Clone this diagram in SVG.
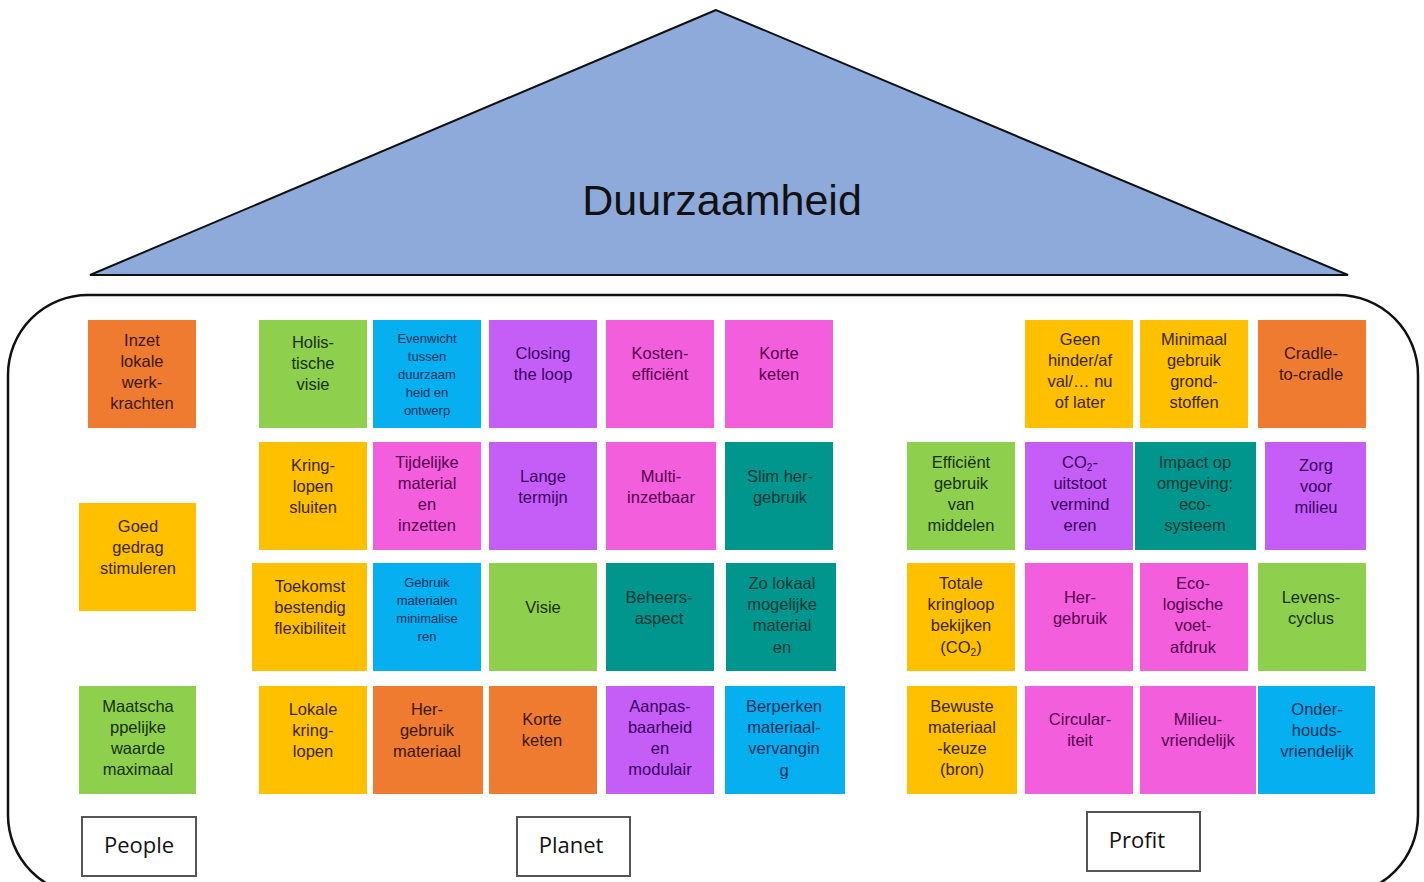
<svg xmlns="http://www.w3.org/2000/svg" width="1424" height="882" viewBox="0 0 1424 882">
  <style>
    .note rect { stroke: none; }
    .note text { font-family: "Liberation Sans", Arial, sans-serif; font-size: 16.5px; text-anchor: middle; }
    .note text.small { font-size: 13px; }
    .orange rect { fill: #EE7B30; } .orange text { fill: #3a1800; }
    .yellow rect { fill: #FFC000; } .yellow text { fill: #3a2600; }
    .green rect { fill: #8FCF4E; } .green text { fill: #163000; }
    .blue rect { fill: #06AFEF; } .blue text { fill: #06305a; }
    .purple rect { fill: #C55EF6; } .purple text { fill: #3a0062; }
    .pink rect { fill: #F35EDC; } .pink text { fill: #560050; }
    .teal rect { fill: #00968E; } .teal text { fill: #003733; }
    .label rect { fill: #ffffff; stroke: #555555; stroke-width: 2; }
    .label text { font-family: "Open Sans", "Noto Sans", sans-serif; font-size: 22px; text-anchor: middle; fill: #111111; }
    .sub { font-size: 10px; }
  </style>

  <!-- roof -->
  <g id="roof">
    <polygon points="716,10 90,275 1348,275" fill="#8EAADB" stroke="#111111" stroke-width="2" stroke-linejoin="miter"/>
    <text x="722" y="215" font-family="'Liberation Sans', Arial, sans-serif" font-size="43" text-anchor="middle" fill="#111111">Duurzaamheid</text>
  </g>

  <!-- body of the house -->
  <g id="house">
    <rect x="8" y="295" width="1410" height="600" rx="80" ry="80" fill="none" stroke="#111111" stroke-width="2.5"/>
  </g>

  <g id="connectors"/>

  <!-- People -->
  <g id="people-1" class="note orange"><rect x="88" y="320" width="108" height="108"/>
    <text><tspan x="142" y="346">Inzet</tspan><tspan x="142" y="367">lokale</tspan><tspan x="142" y="388">werk-</tspan><tspan x="142" y="409">krachten</tspan></text></g>
  <g id="people-2" class="note yellow"><rect x="79" y="503" width="117" height="108"/>
    <text><tspan x="138" y="532">Goed</tspan><tspan x="138" y="553">gedrag</tspan><tspan x="138" y="574">stimuleren</tspan></text></g>
  <g id="people-3" class="note green"><rect x="79" y="686" width="117" height="108"/>
    <text><tspan x="138" y="712">Maatscha</tspan><tspan x="138" y="733">ppelijke</tspan><tspan x="138" y="754">waarde</tspan><tspan x="138" y="775">maximaal</tspan></text></g>

  <!-- Planet row 1 -->
  <g id="planet-1" class="note green"><rect x="259" y="320" width="108" height="108"/>
    <text><tspan x="313" y="348">Holis-</tspan><tspan x="313" y="369">tische</tspan><tspan x="313" y="390">visie</tspan></text></g>
  <g id="planet-2" class="note blue"><rect x="373" y="320" width="108" height="108"/>
    <text class="small"><tspan x="427" y="343">Evenwicht</tspan><tspan x="427" y="361">tussen</tspan><tspan x="427" y="379">duurzaam</tspan><tspan x="427" y="397">heid en</tspan><tspan x="427" y="415">ontwerp</tspan></text></g>
  <g id="planet-3" class="note purple"><rect x="489" y="320" width="108" height="108"/>
    <text><tspan x="543" y="359">Closing</tspan><tspan x="543" y="380">the loop</tspan></text></g>
  <g id="planet-4" class="note pink"><rect x="606" y="320" width="108" height="108"/>
    <text><tspan x="660" y="359">Kosten-</tspan><tspan x="660" y="380">efficiënt</tspan></text></g>
  <g id="planet-5" class="note pink"><rect x="725" y="320" width="108" height="108"/>
    <text><tspan x="779" y="359">Korte</tspan><tspan x="779" y="380">keten</tspan></text></g>

  <!-- Planet row 2 -->
  <g id="planet-6" class="note yellow"><rect x="259" y="442" width="108" height="108"/>
    <text><tspan x="313" y="471">Kring-</tspan><tspan x="313" y="492">lopen</tspan><tspan x="313" y="513">sluiten</tspan></text></g>
  <g id="planet-7" class="note pink"><rect x="373" y="442" width="108" height="108"/>
    <text><tspan x="427" y="468">Tijdelijke</tspan><tspan x="427" y="489">material</tspan><tspan x="427" y="510">en</tspan><tspan x="427" y="531">inzetten</tspan></text></g>
  <g id="planet-8" class="note purple"><rect x="489" y="442" width="108" height="108"/>
    <text><tspan x="543" y="482">Lange</tspan><tspan x="543" y="503">termijn</tspan></text></g>
  <g id="planet-9" class="note pink"><rect x="606" y="442" width="110" height="108"/>
    <text><tspan x="661" y="482">Multi-</tspan><tspan x="661" y="503">inzetbaar</tspan></text></g>
  <g id="planet-10" class="note teal"><rect x="725" y="442" width="108" height="108"/>
    <text><tspan x="780" y="482">Slim her-</tspan><tspan x="780" y="503">gebruik</tspan></text></g>

  <!-- Planet row 3 -->
  <g id="planet-11" class="note yellow"><rect x="252" y="563" width="115" height="108"/>
    <text><tspan x="310" y="592">Toekomst</tspan><tspan x="310" y="613">bestendig</tspan><tspan x="310" y="634">flexibiliteit</tspan></text></g>
  <g id="planet-12" class="note blue"><rect x="373" y="563" width="108" height="108"/>
    <text class="small"><tspan x="427" y="587">Gebruik</tspan><tspan x="427" y="605">materialen</tspan><tspan x="427" y="623">minimalise</tspan><tspan x="427" y="641">ren</tspan></text></g>
  <g id="planet-13" class="note green"><rect x="489" y="563" width="108" height="108"/>
    <text><tspan x="543" y="613">Visie</tspan></text></g>
  <g id="planet-14" class="note teal"><rect x="606" y="563" width="108" height="108"/>
    <text><tspan x="659" y="603">Beheers-</tspan><tspan x="659" y="624">aspect</tspan></text></g>
  <g id="planet-15" class="note teal"><rect x="726" y="563" width="110" height="108"/>
    <text><tspan x="782" y="589">Zo lokaal</tspan><tspan x="782" y="610">mogelijke</tspan><tspan x="782" y="631">material</tspan><tspan x="782" y="653">en</tspan></text></g>

  <!-- Planet row 4 -->
  <g id="planet-16" class="note yellow"><rect x="259" y="686" width="108" height="108"/>
    <text><tspan x="313" y="715">Lokale</tspan><tspan x="313" y="736">kring-</tspan><tspan x="313" y="757">lopen</tspan></text></g>
  <g id="planet-17" class="note orange"><rect x="373" y="686" width="110" height="108"/>
    <text><tspan x="427" y="715">Her-</tspan><tspan x="427" y="736">gebruik</tspan><tspan x="427" y="757">materiaal</tspan></text></g>
  <g id="planet-18" class="note orange"><rect x="489" y="686" width="108" height="108"/>
    <text><tspan x="542" y="725">Korte</tspan><tspan x="542" y="746">keten</tspan></text></g>
  <g id="planet-19" class="note purple"><rect x="606" y="686" width="108" height="108"/>
    <text><tspan x="660" y="712">Aanpas-</tspan><tspan x="660" y="733">baarheid</tspan><tspan x="660" y="754">en</tspan><tspan x="660" y="775">modulair</tspan></text></g>
  <g id="planet-20" class="note blue"><rect x="725" y="686" width="120" height="108"/>
    <text><tspan x="784" y="712">Berperken</tspan><tspan x="784" y="733">materiaal-</tspan><tspan x="784" y="754">vervangin</tspan><tspan x="784" y="776">g</tspan></text></g>

  <!-- Profit row 1 -->
  <g id="profit-1" class="note yellow"><rect x="1025" y="320" width="108" height="108"/>
    <text><tspan x="1080" y="345">Geen</tspan><tspan x="1080" y="366">hinder/af</tspan><tspan x="1080" y="387">val/… nu</tspan><tspan x="1080" y="408">of later</tspan></text></g>
  <g id="profit-2" class="note yellow"><rect x="1140" y="320" width="108" height="108"/>
    <text><tspan x="1194" y="345">Minimaal</tspan><tspan x="1194" y="366">gebruik</tspan><tspan x="1194" y="387">grond-</tspan><tspan x="1194" y="408">stoffen</tspan></text></g>
  <g id="profit-3" class="note orange"><rect x="1258" y="320" width="108" height="108"/>
    <text><tspan x="1311" y="359">Cradle-</tspan><tspan x="1311" y="380">to-cradle</tspan></text></g>

  <!-- Profit row 2 -->
  <g id="profit-4" class="note green"><rect x="907" y="442" width="108" height="108"/>
    <text><tspan x="961" y="468">Efficiënt</tspan><tspan x="961" y="489">gebruik</tspan><tspan x="961" y="510">van</tspan><tspan x="961" y="531">middelen</tspan></text></g>
  <g id="profit-5" class="note purple"><rect x="1025" y="442" width="108" height="108"/>
    <text><tspan x="1080" y="468">CO<tspan class="sub" dy="3">2</tspan><tspan dy="-3">-</tspan></tspan><tspan x="1080" y="489">uitstoot</tspan><tspan x="1080" y="510">vermind</tspan><tspan x="1080" y="531">eren</tspan></text></g>
  <g id="profit-6" class="note teal"><rect x="1135" y="442" width="121" height="108"/>
    <text><tspan x="1195" y="468">Impact op</tspan><tspan x="1195" y="489">omgeving:</tspan><tspan x="1195" y="510">eco-</tspan><tspan x="1195" y="531">systeem</tspan></text></g>
  <g id="profit-7" class="note purple"><rect x="1265" y="442" width="101" height="108"/>
    <text><tspan x="1316" y="471">Zorg</tspan><tspan x="1316" y="492">voor</tspan><tspan x="1316" y="513">milieu</tspan></text></g>

  <!-- Profit row 3 -->
  <g id="profit-8" class="note yellow"><rect x="907" y="563" width="108" height="108"/>
    <text><tspan x="961" y="589">Totale</tspan><tspan x="961" y="610">kringloop</tspan><tspan x="961" y="631">bekijken</tspan><tspan x="961" y="653">(CO<tspan class="sub" dy="3">2</tspan><tspan dy="-3">)</tspan></tspan></text></g>
  <g id="profit-9" class="note pink"><rect x="1025" y="563" width="108" height="108"/>
    <text><tspan x="1080" y="603">Her-</tspan><tspan x="1080" y="624">gebruik</tspan></text></g>
  <g id="profit-10" class="note pink"><rect x="1140" y="563" width="108" height="108"/>
    <text><tspan x="1193" y="589">Eco-</tspan><tspan x="1193" y="610">logische</tspan><tspan x="1193" y="631">voet-</tspan><tspan x="1193" y="653">afdruk</tspan></text></g>
  <g id="profit-11" class="note green"><rect x="1258" y="563" width="108" height="108"/>
    <text><tspan x="1311" y="603">Levens-</tspan><tspan x="1311" y="624">cyclus</tspan></text></g>

  <!-- Profit row 4 -->
  <g id="profit-12" class="note yellow"><rect x="907" y="686" width="110" height="108"/>
    <text><tspan x="962" y="712">Bewuste</tspan><tspan x="962" y="733">materiaal</tspan><tspan x="962" y="754">-keuze</tspan><tspan x="962" y="775">(bron)</tspan></text></g>
  <g id="profit-13" class="note pink"><rect x="1025" y="686" width="108" height="108"/>
    <text><tspan x="1080" y="725">Circular-</tspan><tspan x="1080" y="746">iteit</tspan></text></g>
  <g id="profit-14" class="note pink"><rect x="1140" y="686" width="116" height="108"/>
    <text><tspan x="1198" y="725">Milieu-</tspan><tspan x="1198" y="746">vriendelijk</tspan></text></g>
  <g id="profit-15" class="note blue"><rect x="1258" y="686" width="117" height="108"/>
    <text><tspan x="1317" y="715">Onder-</tspan><tspan x="1317" y="736">houds-</tspan><tspan x="1317" y="757">vriendelijk</tspan></text></g>

  <!-- pillar labels -->
  <g id="label-people" class="label"><rect x="82" y="817" width="114" height="59"/><text x="139" y="853">People</text></g>
  <g id="label-planet" class="label"><rect x="517" y="817" width="113" height="59"/><text x="571" y="853">Planet</text></g>
  <g id="label-profit" class="label"><rect x="1087" y="812" width="113" height="59"/><text x="1137" y="848">Profit</text></g>
</svg>
